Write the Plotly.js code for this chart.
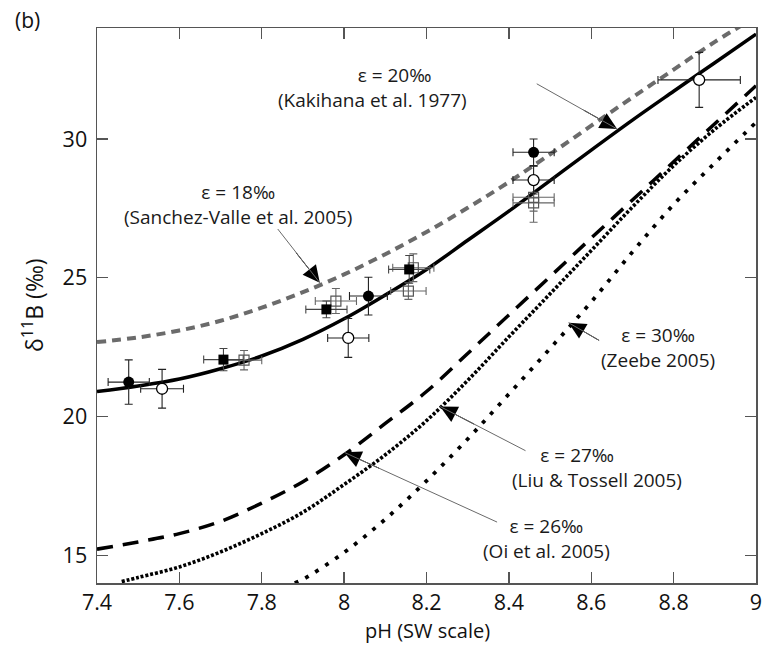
<!DOCTYPE html>
<html>
<head>
<meta charset="utf-8">
<script src="https://cdn.plot.ly/plotly-3.0.1.min.js"></script>
<style>html,body{margin:0;padding:0;background:#fff;}#chart{width:764px;height:650px;}</style>
</head>
<body>
<div id="chart"></div>
<script>
// pH grid for the model curves
const pHGrid = [7.4, 7.5, 7.6, 7.7, 7.8, 7.9, 8.0, 8.1, 8.2, 8.3, 8.4, 8.5, 8.6, 8.7, 8.8, 8.9, 9.0];
// eps = 20 permil (Kakihana et al. 1977) - solid
const eps20 = [20.9, 21.1, 21.35, 21.72, 22.18, 22.78, 23.52, 24.38, 25.3, 26.35, 27.4, 28.5, 29.6, 30.68, 31.72, 32.75, 33.78];
// eps = 18 permil (Sanchez-Valle et al. 2005) - grey dashed
const eps18 = [22.68, 22.85, 23.1, 23.45, 23.92, 24.48, 25.12, 25.85, 26.65, 27.52, 28.45, 29.45, 30.48, 31.5, 32.5, 33.5, 34.4];
// eps = 26 permil (Oi et al. 2005) - black dashed
const eps26 = [15.22, 15.48, 15.78, 16.22, 16.88, 17.65, 18.62, 19.75, 20.9, 22.27, 23.66, 25.04, 26.43, 27.8, 29.18, 30.55, 31.92];
// eps = 27 permil (Liu & Tossell 2005) - fine dots
const pH27 = [7.46, 7.5, 7.6, 7.7, 7.8, 7.9, 8.0, 8.1, 8.2, 8.3, 8.4, 8.5, 8.6, 8.7, 8.8, 8.9, 9.0];
const eps27 = [14.05, 14.2, 14.58, 15.12, 15.78, 16.55, 17.55, 18.62, 19.85, 21.3, 22.87, 24.42, 25.98, 27.55, 29.04, 30.35, 31.5];
// eps = 30 permil (Zeebe 2005) - sparse dots
const pH30 = [7.88, 7.9, 8.0, 8.1, 8.2, 8.3, 8.4, 8.5, 8.6, 8.7, 8.8, 8.9, 9.0];
const eps30 = [14.0, 14.13, 15.1, 16.3, 17.68, 19.19, 20.81, 22.45, 24.13, 25.93, 27.64, 29.14, 30.6];

// measurements
const fcX = [7.477, 8.059, 8.46];
const fcY = [21.24, 24.34, 29.52];
const fcEX = [0.05, 0.046, 0.05];
const fcEY = [0.8, 0.68, 0.48];

const ocX = [7.558, 8.01, 8.46, 8.862];
const ocY = [21.0, 22.83, 28.52, 32.13];
const ocEX = [0.052, 0.05, 0.05, 0.1];
const ocEY = [0.7, 0.7, 0.5, 0.99];

const fsX = [7.707, 7.957, 8.158];
const fsY = [22.05, 23.86, 25.3];
const fsEX = [0.048, 0.05, 0.05];
const fsEY = [0.4, 0.3, 0.5];

const osX = [7.757, 7.98, 8.168, 8.156, 8.46, 8.46];
const osY = [22.03, 24.16, 25.36, 24.52, 27.9, 27.7];
const osEX = [0.043, 0.05, 0.05, 0.043, 0.05, 0.05];
const osEY = [0.35, 0.45, 0.5, 0.3, 0.5, 0.7];

const xTicks = [7.4, 7.6, 7.8, 8.0, 8.2, 8.4, 8.6, 8.8, 9.0];
const xTickText = ["7.4", "7.6", "7.8", "8", "8.2", "8.4", "8.6", "8.8", "9"];
const yTicks = [15, 20, 25, 30];
const yTickText = ["15", "20", "25", "30"];

const FONT = "Open Sans, Arial, sans-serif";
const NB = '\u00A0';
function pad(n) { return NB.repeat(n); }

function errBar(arr, color) {
  return {type: 'data', array: arr, visible: true, color: color, thickness: 1.1, width: 4};
}

const traces = [
  {x: pHGrid, y: eps18, mode: 'lines', line: {color: '#6b6b6b', width: 4, dash: '9px,6px', shape: 'spline'}, hoverinfo: 'skip'},
  {x: pHGrid, y: eps26, mode: 'lines', line: {color: '#000', width: 3.5, dash: '16px,10px', shape: 'spline'}, hoverinfo: 'skip'},
  {x: pH27, y: eps27, mode: 'lines', line: {color: '#000', width: 3.6, dash: '3px,1.9px', shape: 'spline'}, hoverinfo: 'skip'},
  {x: pH30, y: eps30, mode: 'lines', line: {color: '#000', width: 3.8, dash: '3.8px,8px', shape: 'spline'}, hoverinfo: 'skip'},
  {x: pHGrid, y: eps20, mode: 'lines', line: {color: '#000', width: 3.5, shape: 'spline'}, hoverinfo: 'skip'},
  {x: osX, y: osY, mode: 'markers', marker: {symbol: 'square-open', size: 10, color: '#555', line: {width: 1.2, color: '#555'}},
   error_x: errBar(osEX, '#666'), error_y: errBar(osEY, '#666')},
  {x: fsX, y: fsY, mode: 'markers', marker: {symbol: 'square', size: 10, color: '#000'},
   error_x: errBar(fsEX, '#444'), error_y: errBar(fsEY, '#444')},
  {x: fcX, y: fcY, mode: 'markers', marker: {symbol: 'circle', size: 11, color: '#000'},
   error_x: errBar(fcEX, '#222'), error_y: errBar(fcEY, '#222')},
  {x: ocX, y: ocY, mode: 'markers', marker: {symbol: 'circle', size: 11, color: '#fff', line: {width: 1.3, color: '#000'}},
   error_x: errBar(ocEX, '#222'), error_y: errBar(ocEY, '#222')}
];

// two-line text labels
const labelFont = {family: FONT, size: 19, color: '#1a1a1a'};
function lab(x, y, t) {
  return {x: x, y: y, xref: 'x', yref: 'y', text: t, showarrow: false, font: labelFont,
          xanchor: 'center', yanchor: 'middle', align: 'center'};
}
// arrows: black head (drawn first) + thin grey shaft on top
function arrowHead(tx, ty, dx, dy) {
  return {x: tx, y: ty, xref: 'x', yref: 'y', ax: dx, ay: dy, text: '', showarrow: true,
          arrowhead: 2, arrowsize: 3.4, arrowwidth: 1, arrowcolor: '#000', standoff: 0};
}
function arrowLine(tx, ty, sx, sy) {
  return {x: tx, y: ty, xref: 'x', yref: 'y', ax: sx, ay: sy, axref: 'x', ayref: 'y', text: '', showarrow: true,
          arrowhead: 0, arrowwidth: 1, arrowcolor: '#6a6a6a', standoff: 0};
}

const annotations = [
  arrowHead(8.663, 30.36, -35, -19.7),
  arrowHead(7.941, 24.82, -24.8, -31.4),
  arrowHead(8.545, 23.38, 31.7, 18.4),
  arrowHead(8.233, 20.36, 35.5, 18.4),
  arrowHead(8.000, 18.71, 36.4, 16.6),
  arrowLine(8.663, 30.36, 8.464, 32.02),
  arrowLine(7.941, 24.82, 7.836, 26.81),
  arrowLine(8.545, 23.38, 8.623, 22.71),
  arrowLine(8.233, 20.36, 8.444, 18.74),
  arrowLine(8.000, 18.71, 8.375, 16.17),
  lab(8.070, 31.86, pad(9) + 'ε = 20‰<br>(Kakihana et al. 1977)'),
  lab(7.743, 27.65, 'ε = 18‰<br>(Sanchez-Valle et al. 2005)'),
  lab(8.761, 22.47, 'ε = 30‰<br>(Zeebe 2005)'),
  lab(8.615, 18.16, 'ε = 27‰' + pad(8) + '<br>(Liu &amp; Tossell 2005)'),
  lab(8.492, 15.60, 'ε = 26‰<br>(Oi et al. 2005)'),
  {x: -0.128, y: 1.014, xref: 'paper', yref: 'paper', text: '(b)', showarrow: false, xanchor: 'left', yanchor: 'middle',
   font: {family: FONT, size: 21, color: '#111'}},
  {x: 0.5008, y: -0.0847, xref: 'paper', yref: 'paper', text: 'pH (SW scale)', showarrow: false, xanchor: 'center', yanchor: 'middle',
   font: {family: FONT, size: 20, color: '#111'}},
  {x: -0.0971, y: 0.501, xref: 'paper', yref: 'paper', text: 'δ<sup>11</sup>B (‰)', showarrow: false, textangle: -90,
   xanchor: 'center', yanchor: 'middle', font: {family: FONT, size: 23, color: '#111'}}
];

const axisCommon = {
  showgrid: false, zeroline: false, showline: true, linecolor: '#555', linewidth: 1.5, mirror: 'ticks',
  ticks: 'inside', ticklen: 11, tickwidth: 1.3, tickcolor: '#555',
  tickfont: {family: FONT, size: 21.5, color: '#111'}
};

const layout = {
  width: 764, height: 650,
  margin: {l: 97, r: 8, t: 28, b: 67},
  paper_bgcolor: '#fff', plot_bgcolor: '#fff',
  showlegend: false,
  xaxis: Object.assign({}, axisCommon, {range: [7.4, 9.0], tickmode: 'array', tickvals: xTicks, ticktext: xTickText}),
  yaxis: Object.assign({}, axisCommon, {range: [14, 34], tickmode: 'array', tickvals: yTicks, ticktext: yTickText,
                                        ticklabelstandoff: 4}),
  annotations: annotations
};

Plotly.newPlot('chart', traces, layout, {staticPlot: true});
</script>
</body>
</html>
